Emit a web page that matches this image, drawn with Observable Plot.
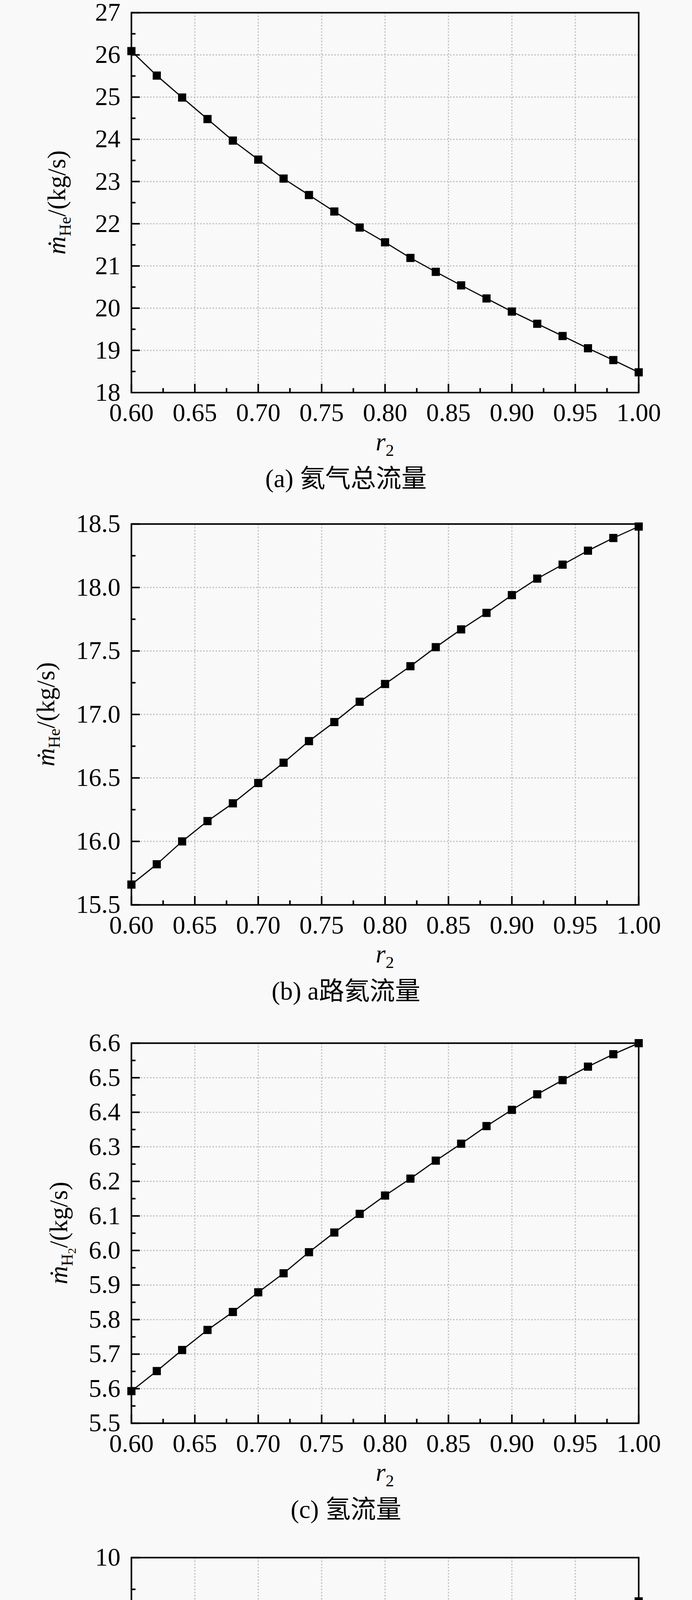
<!DOCTYPE html>
<html><head><meta charset="utf-8">
<script src="https://cdn.jsdelivr.net/npm/d3@7"></script>
<script src="https://cdn.jsdelivr.net/npm/@observablehq/plot@0.6"></script>
<style>
html,body{margin:0;padding:0;background:#f9f9f9;}
html{height:7812px;}
body{width:1772px;height:7812px;position:relative;}
.panel{position:absolute;left:0;width:1772px;}
.panel svg{display:block;overflow:visible;}
.cap{width:1772px;text-align:center;font-family:"Liberation Serif","Noto Sans CJK SC",serif;font-size:65px;line-height:102px;height:102px;color:#000;white-space:nowrap;}
</style></head><body>
<script>
// ---- data ----
const r2 = [0.60,0.62,0.64,0.66,0.68,0.70,0.72,0.74,0.76,0.78,0.80,0.82,0.84,0.86,0.88,0.90,0.92,0.94,0.96,0.98,1.00];
const heTotal = [26.09,25.51,24.99,24.48,23.97,23.52,23.07,22.68,22.29,21.91,21.56,21.19,20.86,20.54,20.23,19.92,19.63,19.34,19.05,18.77,18.48];
const heA = [15.66,15.82,16.00,16.16,16.30,16.46,16.62,16.79,16.94,17.10,17.24,17.38,17.53,17.67,17.80,17.94,18.07,18.18,18.29,18.39,18.48];
const h2 = [5.593,5.651,5.712,5.770,5.822,5.879,5.934,5.995,6.052,6.106,6.159,6.208,6.260,6.309,6.360,6.407,6.452,6.493,6.532,6.568,6.600];
const piC2a = [4.14,4.31,4.50,4.63,4.82,5.01,5.20,5.44,5.65,5.87,6.10,6.31,6.56,6.84,7.13,7.43,7.73,8.02,8.38,8.81,9.31];
const t22 = [448.2,430.6,414.7,397.4,381.2,365.3,349.4,335.6,320.0,304.5,290.0,274.4,259.9,245.1,230.2,215.4,200.5,184.6,169.4,153.9,138.0];
const t25 = [843.5,833.2,823.4,813.5,803.1,793.4,783.8,774.7,765.6,756.5,746.9,737.8,728.9,720.0,710.9,701.8,692.9,683.5,674.4,664.9,654.9];

// ---- tick labels ----
const xTicks = [0.60,0.65,0.70,0.75,0.80,0.85,0.90,0.95,1.00];
const yTicksA = [18,19,20,21,22,23,24,25,26,27];
const yTicksB = [15.5,16.0,16.5,17.0,17.5,18.0,18.5];
const yTicksC = [5.5,5.6,5.7,5.8,5.9,6.0,6.1,6.2,6.3,6.4,6.5,6.6];
const yTicksD = [4,5,6,7,8,9,10];
const yTicksE = [100,150,200,250,300,350,400,450,500];
const yTicksF = [640,680,720,760,800,840,880];

const captions = ["(a) 氦气总流量","(b) a路氦流量","(c) 氢流量","(d) 压气机C2a压比","(e) 换热器1进口温度","(f) 涡轮1出口温度"];

const panels = [
  {values: heTotal, ticks: yTicksA, fmt: d3.format("d"), top: 31.5, h: 972.5, labelX: 167,
   label: [{t:"ṁ",italic:true},{t:"He",size:43,dy:14},{t:"/(kg/s)",dy:-14}]},
  {values: heA, ticks: yTicksB, fmt: d3.format(".1f"), top: 1341, h: 975, labelX: 139,
   label: [{t:"ṁ",italic:true},{t:"He",size:43,dy:14},{t:"/(kg/s)",dy:-14}]},
  {values: h2, ticks: yTicksC, fmt: d3.format(".1f"), top: 2670, h: 973, labelX: 172,
   label: [{t:"ṁ",italic:true},{t:"H",size:43,dy:14},{t:"2",size:30,dy:8},{t:"/(kg/s)",dy:-22}]},
  {values: piC2a, ticks: yTicksD, fmt: d3.format("d"), top: 3986.5, h: 974, labelX: 201,
   label: [{t:"π",italic:true,bold:true},{t:"C2a",size:43,dy:14}]},
  {values: t22, ticks: yTicksE, fmt: d3.format("d"), top: 5294, h: 962, labelX: 146,
   label: [{t:"T",italic:true},{t:"22",size:43,dy:14},{t:"/K",dy:-14}]},
  {values: t25, ticks: yTicksF, fmt: d3.format("d"), top: 6587, h: 962, labelX: 146,
   label: [{t:"T",italic:true},{t:"25",size:43,dy:14},{t:"/K",dy:-14}]}
];

const W = 1772, ML = 336, MR = 137, MT = 30, MB = 170;
const FS = 65;
const gridStyle = {stroke: "#c2c2c2", strokeOpacity: 1, strokeWidth: 3, strokeDasharray: "4,4"};
const minorX = d3.pairs(xTicks, (a, b) => (a + b) / 2);

panels.forEach((p, i) => {
  const pw = W - ML - MR, ph = p.h;
  const H = MT + ph + MB;
  const data = r2.map((x, j) => ({x, y: p.values[j]}));
  const minorY = d3.pairs(p.ticks, (a, b) => (a + b) / 2);
  const svg = Plot.plot({
    width: W, height: H,
    marginTop: MT, marginBottom: MB, marginLeft: ML, marginRight: MR,
    style: {fontFamily: "Liberation Serif", fontSize: FS + "px", color: "#000", background: "transparent", overflow: "visible"},
    x: {domain: [xTicks[0], xTicks[xTicks.length - 1]]},
    y: {domain: [p.ticks[0], p.ticks[p.ticks.length - 1]]},
    marks: [
      Plot.gridX(xTicks.slice(1, -1), gridStyle),
      Plot.gridY(p.ticks.slice(1, -1), gridStyle),
      Plot.axisX(xTicks, {tickSize: 0, tickPadding: 27, tickFormat: d3.format(".2f"), fontSize: FS, label: null}),
      Plot.axisY(p.ticks, {tickSize: 0, tickPadding: 28, tickFormat: p.fmt, fontSize: FS, label: null}),
      Plot.tickX(xTicks, {x: d => d, insetTop: ph - 22, strokeWidth: 4, stroke: "#000"}),
      Plot.tickX(minorX, {x: d => d, insetTop: ph - 11, strokeWidth: 4, stroke: "#000"}),
      Plot.tickY(p.ticks, {y: d => d, insetRight: pw - 22, strokeWidth: 4, stroke: "#000"}),
      Plot.tickY(minorY, {y: d => d, insetRight: pw - 11, strokeWidth: 4, stroke: "#000"}),
      Plot.frame({stroke: "#000", strokeWidth: 4}),
      Plot.line(data, {x: "x", y: "y", stroke: "#000", strokeWidth: 3}),
      Plot.dot(data, {x: "x", y: "y", symbol: "square", r: 11.8, fill: "#000", stroke: "none"})
    ]
  });
  const s = d3.select(svg);
  // y-axis label
  const yl = s.append("text")
    .attr("transform", `translate(${p.labelX},${MT + ph / 2}) rotate(-90)`)
    .attr("text-anchor", "middle")
    .attr("font-family", "Liberation Serif")
    .attr("font-size", FS)
    .attr("fill", "#000");
  p.label.forEach(seg => {
    yl.append("tspan")
      .attr("font-size", seg.size || FS)
      .attr("dy", seg.dy || 0)
      .attr("font-style", seg.italic ? "italic" : null)
      .attr("font-weight", seg.bold ? "bold" : null)
      .text(seg.t);
  });
  // x-axis label
  const xl = s.append("text")
    .attr("x", ML + pw / 2)
    .attr("y", MT + ph + 148)
    .attr("text-anchor", "middle")
    .attr("font-family", "Liberation Serif")
    .attr("font-size", FS)
    .attr("fill", "#000");
  xl.append("tspan").attr("font-style", "italic").text("r");
  xl.append("tspan").attr("font-size", 43).attr("dy", 14).text("2");

  const wrap = document.createElement("div");
  wrap.className = "panel";
  wrap.style.top = (p.top - MT) + "px";
  wrap.appendChild(svg);
  const cap = document.createElement("div");
  cap.className = "cap";
  cap.textContent = captions[i];
  wrap.appendChild(cap);
  document.body.appendChild(wrap);
});
</script>
</body></html>
